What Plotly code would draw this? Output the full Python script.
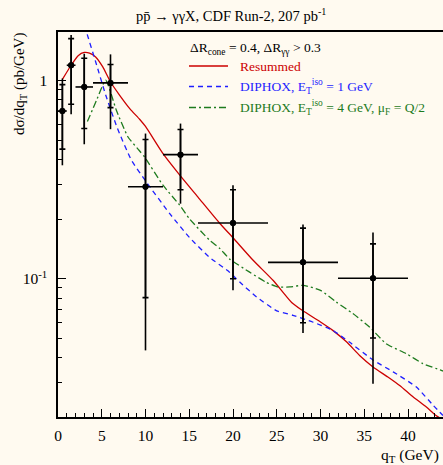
import plotly.graph_objects as go

# ---------------- data ----------------
qt = [0.5, 1.5, 3, 6, 10, 14, 20, 28, 36]
qt_halfbin = [0.5, 0.5, 1, 2, 2, 2, 4, 4, 4]
xsec = [0.70, 1.19, 0.925, 0.97, 0.291, 0.422, 0.191, 0.121, 0.1006]
tot_hi = [1.02, 1.69, 1.36, 1.35, 0.539, 0.605, 0.296, 0.1875, 0.171]
tot_lo = [0.373, 0.674, 0.476, 0.567, 0.0436, 0.239, 0.0875, 0.0533, 0.0296]
stat_hi = [0.95, 1.62, 1.29, 1.20, 0.503, 0.565, 0.281, 0.180, 0.150]
stat_lo = [0.45, 0.757, 0.571, 0.728, 0.0804, 0.281, 0.100, 0.0601, 0.0503]

res_x = [0.5, 1.5, 2.3, 3.0, 3.6, 4.3, 5.1, 6.0, 7.05, 8.2, 9.35, 10, 12, 13.94, 16, 18.5, 20,
         22.3, 24.6, 26.7, 27.9, 30, 31.4, 33, 34.5, 36, 37.7, 39.05, 40.6, 42.1, 43.2, 44]
res_y = [1.01, 1.19, 1.33, 1.38, 1.37, 1.31, 1.17, 0.98, 0.84, 0.72, 0.634, 0.585, 0.427, 0.332, 0.258, 0.19, 0.161,
         0.124, 0.098, 0.076, 0.0694, 0.0606, 0.055, 0.048, 0.041, 0.036, 0.032, 0.029, 0.0254, 0.0226, 0.0205, 0.0195]

dip1_x = [2.5, 3.24, 4.3, 5.45, 6.79, 8.4, 10.1, 12.77, 15.05, 17.35, 19.6, 20.8, 22.7, 25.0, 26.85,
          29.1, 31.4, 33.3, 36, 38.3, 40.96, 42.9, 44]
dip1_y = [2.3, 1.76, 1.24, 0.843, 0.573, 0.395, 0.307, 0.213, 0.161, 0.128, 0.108, 0.096, 0.081, 0.069, 0.0655,
          0.0606, 0.055, 0.048, 0.039, 0.034, 0.0285, 0.023, 0.0205]

dip4_x = [3.36, 4.39, 5.45, 6.67, 8.0, 9.26, 9.9, 12, 13.9, 15.05, 17.35, 18.5, 19.6, 21.9, 23.8, 25.1, 26.5,
          28, 30, 31.8, 33.7, 35.6, 37.5, 39.8, 41.7, 43.8, 44]
dip4_y = [0.62, 0.79, 1.0, 0.706, 0.518, 0.444, 0.41, 0.296, 0.235, 0.200, 0.156, 0.142, 0.126, 0.108, 0.096,
          0.091, 0.091, 0.0927, 0.0875, 0.0764, 0.0668, 0.0572, 0.0471, 0.042, 0.0374, 0.0346, 0.0343]

y_major = [0.1, 1]
y_major_text = ["10<sup>-1</sup>", "1"]
y_minor = [0.03, 0.04, 0.05, 0.06, 0.07, 0.08, 0.09, 0.2, 0.3, 0.4, 0.5, 0.6, 0.7, 0.8, 0.9]

title_text = "pp\u0304 \u2192 \u03b3\u03b3X, CDF Run-2, 207 pb<sup>-1</sup>"
legend_header = "\u0394R<sub>cone</sub> = 0.4, \u0394R<sub>\u03b3\u03b3</sub> > 0.3"
name_res = "Resummed"
name_d1 = "DIPHOX, E<sub>T</sub><sup>iso</sup> = 1 GeV"
name_d4 = "DIPHOX, E<sub>T</sub><sup>iso</sup> = 4 GeV, \u03bc<sub>F</sub> = Q/2"

# ---------------- style ----------------
RED = "#cc0000"
BLUE = "#1f1fff"
GREEN = "#1e7b1e"
BG = "#fffaf0"
FONT = "Liberation Serif, Times New Roman, DejaVu Serif, serif"

W, H = 443, 465
ML, MR, MT, MB = 58, 0, 32, 48
PW, PH = W - ML - MR, H - MT - MB


def px(xp):
    return (xp - ML) / PW


def py(yp):
    return (H - MB - yp) / PH


fig = go.Figure()

fig.add_trace(go.Scatter(x=res_x, y=res_y, mode="lines", line=dict(color=RED, width=1.3, shape="spline", smoothing=0.6),
                         showlegend=False))
fig.add_trace(go.Scatter(x=dip1_x, y=dip1_y, mode="lines",
                         line=dict(color=BLUE, width=1.3, dash="5px,4px", shape="spline", smoothing=0.5),
                         showlegend=False))
fig.add_trace(go.Scatter(x=dip4_x, y=dip4_y, mode="lines",
                         line=dict(color=GREEN, width=1.3, dash="7px,3px,2px,3px", shape="spline", smoothing=0.5),
                         showlegend=False))

fig.add_trace(go.Scatter(
    x=qt, y=xsec, mode="markers", marker=dict(color="black", size=6), showlegend=False,
    error_y=dict(type="data", symmetric=False,
                 array=[h - v for h, v in zip(tot_hi, xsec)],
                 arrayminus=[v - l for l, v in zip(tot_lo, xsec)],
                 color="black", thickness=1.6, width=0),
    error_x=dict(type="data", array=qt_halfbin, color="black", thickness=1.6, width=0),
))
fig.add_trace(go.Scatter(
    x=qt, y=xsec, mode="markers", marker=dict(color="black", size=6), showlegend=False,
    error_y=dict(type="data", symmetric=False,
                 array=[h - v for h, v in zip(stat_hi, xsec)],
                 arrayminus=[v - l for l, v in zip(stat_lo, xsec)],
                 color="black", thickness=1.6, width=3),
))

# legend (manual)
leg_items = [(name_res, RED, "solid", 66), (name_d1, BLUE, "5px,4px", 86.5),
             (name_d4, GREEN, "7px,3px,2px,3px", 107.5)]
for txt, col, dsh, yy in leg_items:
    fig.add_shape(type="line", xref="paper", yref="paper", x0=px(189), x1=px(228), y0=py(yy), y1=py(yy),
                  line=dict(color=col, width=1.3, dash=dsh))
    fig.add_annotation(x=px(238), y=py(yy), xref="paper", yref="paper", text=txt, showarrow=False,
                       xanchor="left", yanchor="middle", font=dict(family=FONT, size=13.5, color=col))
fig.add_annotation(x=px(188), y=py(48), xref="paper", yref="paper", text=legend_header, showarrow=False,
                   xanchor="left", yanchor="middle", font=dict(family=FONT, size=13.5, color="black"))

# title & axis titles
fig.add_annotation(x=px(231), y=py(15), xref="paper", yref="paper", text=title_text, showarrow=False,
                   xanchor="center", yanchor="middle", font=dict(family=FONT, size=14.5, color="black"))
fig.add_annotation(x=px(441), y=py(455), xref="paper", yref="paper", text="q<sub>T</sub> (GeV)",
                   showarrow=False, xanchor="right", yanchor="middle",
                   font=dict(family=FONT, size=15.5, color="black"))
fig.add_annotation(x=px(20), y=py(31), xref="paper", yref="paper",
                   text="d\u03c3/dq<sub>T</sub> (pb/GeV)", textangle=-90,
                   showarrow=False, xanchor="center", yanchor="top",
                   font=dict(family=FONT, size=15, color="black"))

fig.update_layout(
    width=W, height=H,
    margin=dict(l=ML, r=MR, t=MT, b=MB, pad=0),
    paper_bgcolor=BG, plot_bgcolor=BG,
    showlegend=False,
    font=dict(family=FONT, size=15.5, color="black"),
    xaxis=dict(range=[0, 44], showgrid=False, zeroline=False,
               showline=True, linecolor="black", linewidth=1.6, mirror=True,
               ticks="inside", ticklen=8, tickwidth=1, tickcolor="black",
               tick0=0, dtick=5,
               minor=dict(ticks="inside", ticklen=4, tickwidth=1, tickcolor="black", dtick=1, showgrid=False),
               tickfont=dict(family=FONT, size=15.5), ticklabelstandoff=4),
    yaxis=dict(type="log", range=[-1.696, 0.243], showgrid=False, zeroline=False,
               showline=True, linecolor="black", linewidth=1.6,
               ticks="inside", ticklen=8, tickwidth=1, tickcolor="black",
               tickmode="array", tickvals=y_major, ticktext=y_major_text,
               minor=dict(ticks="inside", ticklen=4, tickwidth=1, tickcolor="black",
                          tickmode="array", tickvals=y_minor, showgrid=False),
               tickfont=dict(family=FONT, size=15.5), ticklabelstandoff=6),
)

fig.write_html("out.html", config={"displayModeBar": False, "staticPlot": True},
               post_script="document.body.style.margin='0';document.body.style.padding='0';document.body.style.background='" + BG + "';")
